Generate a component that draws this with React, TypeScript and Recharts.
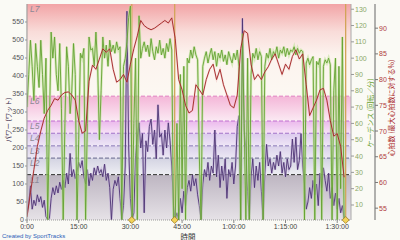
import React from "react";
import {
  ComposedChart,
  Line,
  XAxis,
  YAxis,
  CartesianGrid,
  ReferenceArea,
  ReferenceLine,
  ReferenceDot,
} from "recharts";

// samples every half minute (power, cadence) / every minute (heart rate)
const SAMPLE_MIN = 0.5;
const HR_SAMPLE_MIN = 1;

const power = [
  20, 45, 95, 30, 55, 40, 70, 50, 65, 35,
  55, 10, 0, 5, 60, 90, 70, 95, 75, 105,
  85, 110, 90, 130, 100, 185, 120, 140, 115, 135,
  160, 145, 165, 120, 100, 140, 95, 130, 110, 145,
  125, 150, 130, 140, 120, 155, 110, 130, 90, 0,
  85, 110, 95, 120, 60, 0, 40, 150, 580, 200,
  60, 0, 20, 180, 230, 270, 200, 240, 20, 220,
  190, 260, 280, 210, 250, 170, 320, 230, 240, 180,
  250, 200, 270, 220, 150, 40, 0, 20, 0, 60,
  20, 80, 40, 90, 110, 80, 125, 95, 115, 70,
  40, 0, 100, 140, 120, 160, 110, 150, 130, 250,
  120, 180, 90, 150, 110, 170, 60, 140, 120, 160,
  100, 150, 260, 290, 0, 560, 250, 200, 80, 0,
  120, 170, 90, 150, 110, 160, 80, 0, 130, 210,
  150, 170, 130, 160, 140, 180, 150, 190, 130, 160,
  120, 170, 140, 150, 225, 160, 230, 140, 165, 240,
  150, 100, 30, 50, 90, 60, 110, 70, 100, 40,
  130, 90, 145, 110, 80, 130, 60, 90, 40, 75,
  30, 60, 20, 40, 5, 0,
];

const cadence = [
  70, 90, 111, 95, 74, 109, 95, 82, 111, 90,
  66, 100, 0, 60, 116, 100, 113, 90, 80, 109,
  69, 0, 60, 107, 95, 66, 80, 109, 90, 0,
  50, 103, 100, 106, 0, 60, 113, 105, 106, 95,
  116, 95, 50, 80, 113, 100, 108, 95, 111, 104,
  108, 103, 110, 105, 107, 0, 95, 100, 110, 125,
  132, 0, 60, 100, 0, 126, 100, 106, 110, 104,
  108, 101, 112, 104, 99, 107, 103, 111, 102, 106,
  100, 109, 104, 112, 105, 0, 0, 60, 0, 90,
  20, 95, 0, 100, 97, 105, 100, 107, 102, 99,
  40, 0, 95, 100, 104, 97, 102, 106, 99, 104,
  95, 103, 100, 105, 98, 102, 96, 104, 100, 97,
  103, 99, 105, 95, 0, 115, 60, 0, 100, 0,
  90, 103, 100, 106, 99, 104, 101, 0, 95, 103,
  100, 106, 99, 104, 102, 107, 100, 105, 103, 107,
  101, 106, 102, 105, 104, 107, 102, 106, 103, 105,
  104, 0, 97, 100, 96, 99, 101, 0, 98, 96,
  100, 0, 95, 99, 97, 100, 96, 0, 80, 100,
  0, 95, 20, 113, 0, 0,
];

const heartRate = [
  53.3, 58, 62.5, 67, 70, 72.5, 74, 75, 76.3, 76,
  77, 77.5, 77.6, 77, 76, 72, 69.6, 70, 79.7, 82.8,
  82, 84, 86, 85.3, 86, 82, 79.5, 80, 81, 79.5,
  83, 86, 88.5, 91.5, 90.5, 90, 89.7, 90, 90.5, 91,
  91.5, 91, 92, 88, 80, 78, 75, 73.5, 74, 79,
  78, 77, 80, 82, 83, 80, 82, 79, 77, 75,
  74.5, 77, 86, 89.5, 89, 83, 80, 81, 80, 81.5,
  82.5, 84, 85, 83, 81, 83, 82, 84.5, 85.8, 84,
  85, 79, 73, 74.5, 76, 78, 78.3, 76, 72, 69,
  69.5, 67, 61,
];

const xTicks = [0, 15, 30, 45, 60, 75, 90];
const xTickLabels = ["0:00", "15:00", "30:00", "45:00", "1:00:00", "1:15:00", "1:30:00"];
const powerTicks = [0, 50, 100, 150, 200, 250, 300, 350, 400, 450, 500, 550];
const cadenceTicks = [10, 20, 30, 40, 50, 60, 70, 80, 90, 100, 110, 120, 130];
const hrTicks = [55, 60, 65, 70, 75, 80, 85, 90];

const zoneEdges = [0, 126, 172, 206, 241, 275, 344, 600];
const zoneNames = ["L1", "L2", "L3", "L4", "L5", "L6", "L7"];
const lapMarks = [30.4, 42.85, 92.45];

// styles per zone (top colour, bottom colour, boundary line)
const zoneTop = ["#bdb5c1", "#d3d3e2", "#d9d0ea", "#dccaee", "#ebb9ec", "#f4b6d8", "#f2a4a6"];
const zoneBottom = ["#e6e2e7", "#eeeef3", "#ece8f4", "#efe6f6", "#f7e2f7", "#fbeaf3", "#fcf8f2"];
const zoneLine = ["#2e2e2e", "#66668e", "#8a78b8", "#a070c8", "#c070d0", "#e07cc0"];

const powerData = power.map((v, i) => ({ t: i * SAMPLE_MIN, v }));
const cadenceData = cadence.map((v, i) => ({ t: i * SAMPLE_MIN, v }));
const hrData = heartRate.map((v, i) => ({ t: i * HR_SAMPLE_MIN, v }));

const FONT = "'Liberation Sans', 'Noto Sans CJK JP', sans-serif";
const JP = "'Noto Sans CJK JP', 'Liberation Sans', sans-serif";

const Diamond = (props: any) => {
  const { cx, cy } = props;
  return (
    <path
      d={`M${cx},${cy - 3.5} L${cx + 3.5},${cy} L${cx},${cy + 3.5} L${cx - 3.5},${cy} Z`}
      fill="#f2d35a"
      stroke="#a07a22"
      strokeWidth={0.8}
    />
  );
};

export default function App() {
  return (
    <div
      style={{
        position: "absolute",
        left: 0,
        top: 0,
        width: 400,
        height: 240,
        background: "#fafaf5",
        fontFamily: FONT,
      }}
    >
      <ComposedChart
        width={400}
        height={240}
        margin={{ top: 4, right: 0, bottom: 0, left: 0 }}
      >
        <defs>
          {zoneNames.map((z, i) => (
            <linearGradient key={z} id={`g${z}`} x1="0" y1="0" x2="0" y2="1">
              <stop offset="0" stopColor={zoneTop[i]} />
              {z === "L7" && <stop offset="0.3" stopColor="#f9dcd9" />}
              {z === "L7" && <stop offset="0.55" stopColor="#fcf3ee" />}
              <stop offset="1" stopColor={zoneBottom[i]} />
            </linearGradient>
          ))}
        </defs>

        <XAxis
          dataKey="t"
          type="number"
          domain={[0, 94]}
          ticks={xTicks}
          allowDataOverflow
          height={20}
          tickFormatter={(v) => xTickLabels[xTicks.indexOf(v)]}
          tick={{ fontSize: 7, fill: "#444", fontFamily: FONT }}
          tickSize={3}
          tickMargin={1}
          tickLine={{ stroke: "#888" }}
          axisLine={{ stroke: "#999", strokeDasharray: "1 1" }}
        />
        <YAxis
          yAxisId="pw"
          orientation="left"
          width={27}
          domain={[0, 600]}
          ticks={powerTicks}
          allowDataOverflow
          tick={{ fontSize: 7, fill: "#555", fontFamily: FONT }}
          tickSize={2}
          tickMargin={1}
          tickLine={{ stroke: "#999" }}
          axisLine={{ stroke: "#999" }}
        />
        <YAxis
          yAxisId="cad"
          orientation="right"
          width={24}
          domain={[0.8, 133.2]}
          ticks={cadenceTicks}
          allowDataOverflow
          tick={{ fontSize: 7, fill: "#8aa866", fontFamily: FONT }}
          tickSize={3}
          tickMargin={1}
          tickLine={{ stroke: "#999" }}
          axisLine={{ stroke: "#aaa" }}
        />
        <YAxis
          yAxisId="hr"
          orientation="right"
          width={25}
          domain={[52.7, 94.7]}
          ticks={hrTicks}
          allowDataOverflow
          tick={{ fontSize: 7, fill: "#b04040", fontFamily: FONT }}
          tickSize={3}
          tickMargin={1}
          tickLine={{ stroke: "#777" }}
          axisLine={{ stroke: "#666" }}
        />

        {zoneNames.map((z, i) => (
          <ReferenceArea
            key={z}
            yAxisId="pw"
            y1={zoneEdges[i]}
            y2={zoneEdges[i + 1]}
            fill={`url(#g${z})`}
            fillOpacity={1}
            stroke="none"
            label={(p: any) => (
              <text
                x={p.viewBox.x + 3}
                y={p.viewBox.y + 8}
                fontSize={8.5}
                fontStyle="italic"
                fill="#8c8896"
                fontFamily={FONT}
              >
                {z}
              </text>
            )}
          />
        ))}

        <CartesianGrid
          yAxisId="pw"
          stroke="#d6d2c8"
          strokeOpacity={0.8}
          horizontalValues={powerTicks}
          verticalValues={xTicks}
        />

        {zoneEdges.slice(1, 7).map((e, i) => (
          <ReferenceLine
            key={e}
            yAxisId="pw"
            y={e}
            stroke={zoneLine[i]}
            strokeDasharray="4 2"
            strokeWidth={1}
          />
        ))}

        {lapMarks.map((m) => (
          <ReferenceLine
            key={`lap${m}`}
            yAxisId="pw"
            x={m}
            stroke="#d2a458"
            strokeWidth={1.3}
          />
        ))}

        <Line
          yAxisId="pw"
          data={powerData}
          dataKey="v"
          type="linear"
          stroke="#bfaed6"
          strokeWidth={2.4}
          strokeOpacity={0.6}
          dot={false}
          activeDot={false}
          isAnimationActive={false}
        />
        <Line
          yAxisId="pw"
          data={powerData}
          dataKey="v"
          type="linear"
          stroke="#4e3474"
          strokeWidth={0.9}
          dot={false}
          activeDot={false}
          isAnimationActive={false}
        />
        <Line
          yAxisId="cad"
          data={cadenceData}
          dataKey="v"
          type="linear"
          stroke="#bfe39a"
          strokeWidth={2.6}
          strokeOpacity={0.6}
          dot={false}
          activeDot={false}
          isAnimationActive={false}
        />
        <Line
          yAxisId="cad"
          data={cadenceData}
          dataKey="v"
          type="linear"
          stroke="#64a232"
          strokeWidth={0.9}
          dot={false}
          activeDot={false}
          isAnimationActive={false}
        />
        <Line
          yAxisId="hr"
          data={hrData}
          dataKey="v"
          type="linear"
          stroke="#e6a0a0"
          strokeWidth={1.8}
          strokeOpacity={0.35}
          dot={false}
          activeDot={false}
          isAnimationActive={false}
        />
        <Line
          yAxisId="hr"
          data={hrData}
          dataKey="v"
          type="linear"
          stroke="#a02222"
          strokeWidth={0.9}
          dot={false}
          activeDot={false}
          isAnimationActive={false}
        />

        {lapMarks.map((m) => (
          <ReferenceDot
            key={`d${m}`}
            yAxisId="pw"
            x={m}
            y={0}
            r={3}
            ifOverflow="visible"
            shape={Diamond}
          />
        ))}
      </ComposedChart>

      <svg
        width={400}
        height={240}
        style={{ position: "absolute", left: 0, top: 0, pointerEvents: "none" }}
      >
        <text
          transform="translate(8,120) rotate(-90)"
          textAnchor="middle"
          dominantBaseline="central"
          fontSize={6.5}
          fill="#3c2c4c"
          fontFamily={JP}
        >
          パワー (ワット)
        </text>
        <text
          transform="translate(370,113) rotate(-90)"
          textAnchor="middle"
          dominantBaseline="central"
          fontSize={7}
          fill="#6a9e2e"
          fontFamily={JP}
        >
          ケーデンス (回転／分)
        </text>
        <text
          transform="translate(391,108) rotate(-90)"
          textAnchor="middle"
          dominantBaseline="central"
          fontSize={7}
          fill="#a82424"
          fontFamily={JP}
        >
          心拍数 (最大心拍数に対する%)
        </text>
        <text
          x={188}
          y={236}
          textAnchor="middle"
          dominantBaseline="central"
          fontSize={7.5}
          fill="#333"
          fontFamily={JP}
        >
          時間
        </text>
        <text
          x={2}
          y={236}
          dominantBaseline="central"
          fontSize={6}
          fill="#2a5cb8"
          fontFamily={FONT}
        >
          Created by SportTracks
        </text>
      </svg>
    </div>
  );
}
